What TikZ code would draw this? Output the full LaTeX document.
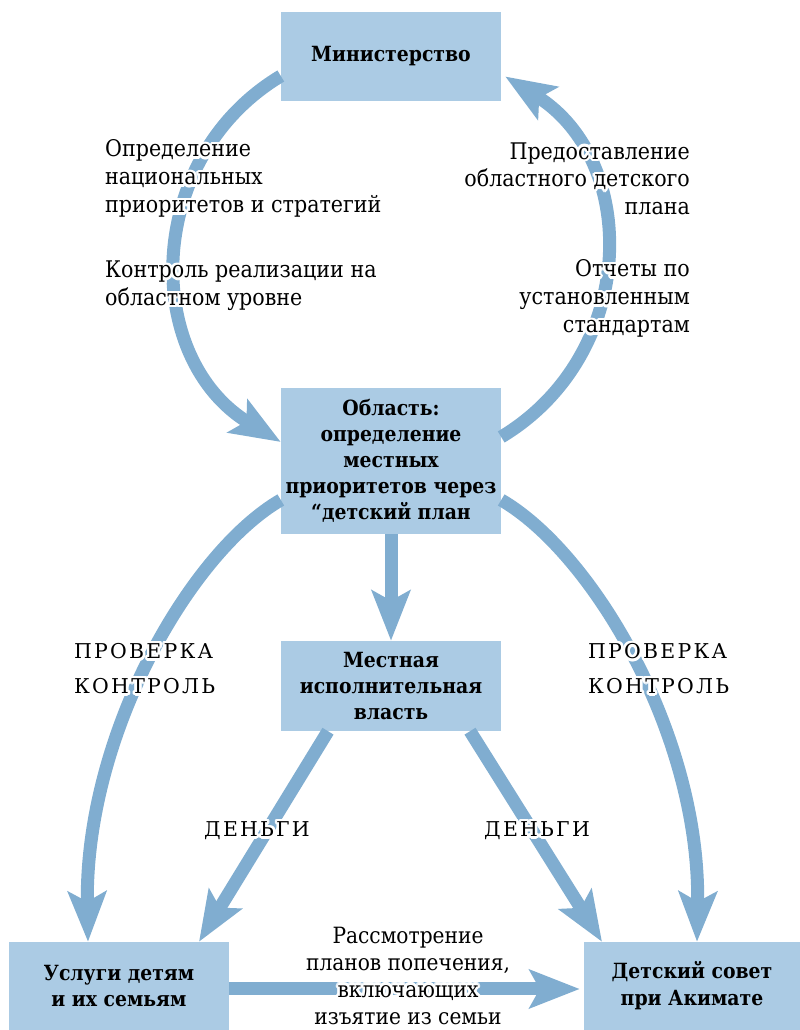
\documentclass[tikz,border=0pt]{standalone}
\usepackage{fontspec}
\setmainfont{DejaVu Serif Condensed}
\newfontfamily\capsfont[LetterSpace=11]{DejaVu Serif}
\usepackage{contour}
\contourlength{2.5pt}
\usetikzlibrary{arrows.meta,positioning}
\definecolor{boxfill}{RGB}{171,203,228}
\definecolor{flowcol}{RGB}{128,173,208}
\newcommand{\halo}[1]{\contour{white}{#1}}

\begin{document}
\begin{tikzpicture}[x=1bp,y=1bp,line join=bevel,
  unit/.style={fill=boxfill,draw=none,inner sep=0pt,align=center,
    font=\fontsize{21}{26}\selectfont\bfseries},
  flow/.style={draw=flowcol,line width=13bp,
    -{Stealth[length=50bp,width=38bp,inset=10bp]}},
  note/.style={inner sep=0pt,font=\fontsize{23}{28}\selectfont},
  caps/.style={inner sep=0pt,align=left,font=\capsfont\fontsize{20.5}{35}\selectfont},
]
\useasboundingbox (0bp,0bp) rectangle (800bp,1030bp);
% boxes
\node[unit,minimum width=220bp,minimum height=89bp] (min) at (391bp,973.5bp) {Министерство};
\node[unit,minimum width=220bp,minimum height=146bp] (obl) at (391bp,569bp)
  {Область:\\определение\\местных\\приоритетов через\\“детский план};
\node[unit,minimum width=220bp,minimum height=90bp] (loc) at (391bp,344bp)
  {Местная\\исполнительная\\власть};
\node[unit,minimum width=220bp,minimum height=88bp,font=\fontsize{21}{27}\selectfont\bfseries]
  (serv) at (119bp,44bp) {Услуги детям\\и их семьям};
\node[unit,minimum width=216bp,minimum height=88bp,font=\fontsize{21}{27}\selectfont\bfseries]
  (coun) at (692bp,44bp) {Детский совет\\при Акимате};
% connectors
\draw[flow] ([yshift=-19.5bp]min.west) to[out=211,in=149,looseness=1.13] ([yshift=19bp]obl.west);
\draw[flow] ([yshift=24bp]obl.east) to[out=31,in=328,looseness=1.13] ([xshift=4bp,yshift=-20bp]min.east);
\draw[flow] (obl.south) -- (loc.north);
\draw[flow] ([yshift=-39bp]obl.west) to[out=210,in=91,out looseness=0.55,in looseness=1.1] ([xshift=-31bp]serv.north);
\draw[flow] ([yshift=-39bp]obl.east) to[out=-30,in=89,out looseness=0.55,in looseness=1.1] ([xshift=5bp]coun.north);
\draw[flow] ([xshift=-63bp]loc.south) -- ([xshift=80bp]serv.north);
\draw[flow] ([xshift=79bp]loc.south) -- ([xshift=-90bp]coun.north);
\draw[flow] ([yshift=-3bp]serv.east) -- ([xshift=-4bp,yshift=-3bp]coun.west);
% labels
\node[note,anchor=west,align=left] (natl) at (105bp,850bp)
  {\halo{Определение}\\\halo{национальных}\\\halo{приоритетов и стратегий}};
\node[note,anchor=west,align=left] (ctrl) at (105bp,743bp)
  {\halo{Контроль реализации на}\\\halo{областном уровне}};
\node[note,anchor=east,align=right] (plan) at (690bp,850bp)
  {\halo{Предоставление}\\\halo{областного детского}\\\halo{плана}};
\node[note,anchor=east,align=right] (rep) at (690bp,730bp)
  {\halo{Отчеты по}\\\halo{установленным}\\\halo{стандартам}};
\node[caps,anchor=west] (chkl) at (74bp,360bp) {\halo{ПРОВЕРКА}\\\halo{КОНТРОЛЬ}};
\node[caps,anchor=west] (chkr) at (588bp,360bp) {\halo{ПРОВЕРКА}\\\halo{КОНТРОЛЬ}};
\node[caps] (monl) at (257bp,198bp) {\halo{ДЕНЬГИ}};
\node[caps] (monr) at (537bp,198bp) {\halo{ДЕНЬГИ}};
\node[note,align=center,font=\fontsize{22.5}{27}\selectfont] (rev) at (408bp,53bp)
  {\halo{Рассмотрение}\\\halo{планов попечения,}\\\halo{включающих}\\\halo{изъятие из семьи}};
\end{tikzpicture}
\end{document}
